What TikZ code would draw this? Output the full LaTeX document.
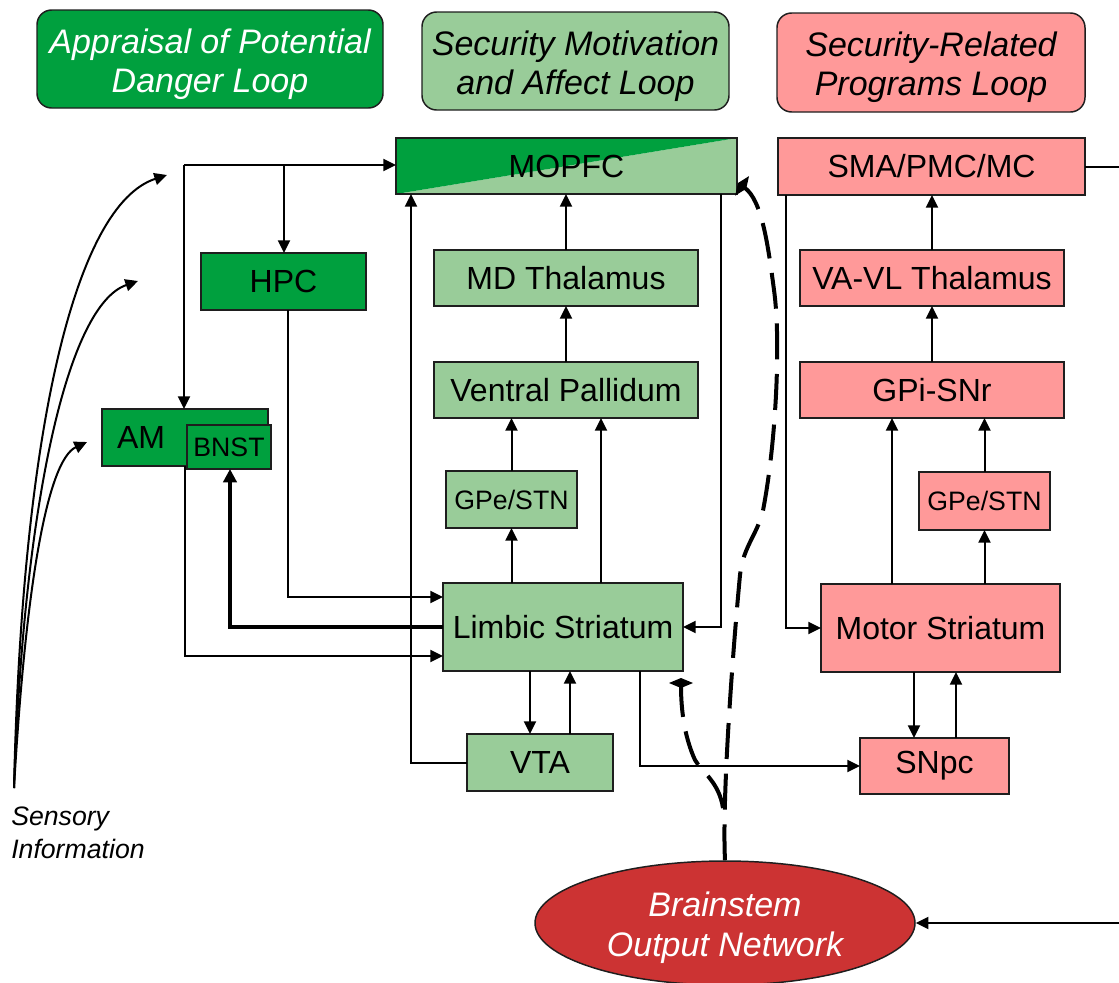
\documentclass[tikz,border=0pt]{standalone}
\usepackage{fontspec}
\setmainfont{Liberation Sans}
\usetikzlibrary{arrows.meta,calc,shapes.geometric}
\definecolor{dg}{RGB}{0,160,62}
\definecolor{lg}{RGB}{153,204,153}
\definecolor{pk}{RGB}{255,153,153}
\definecolor{bsred}{RGB}{204,51,51}
\definecolor{bd}{RGB}{30,30,30}
\newcommand{\hstrut}{\rule{0pt}{26pt}}
\begin{document}
\begin{tikzpicture}[x=0.75pt,y=-0.75pt,
 box/.style={draw=bd, line width=1.1pt, inner sep=0pt, outer sep=0pt, font=\fontsize{24}{28}\selectfont, text=black},
 dgbox/.style={box, fill=dg},
 lgbox/.style={box, fill=lg},
 pkbox/.style={box, fill=pk},
 smalltxt/.style={font=\fontsize{20}{24}\selectfont},
 hdr/.style={draw=bd, line width=1.1pt, rounded corners=11pt, align=center, font=\fontsize{25.5}{29.25}\selectfont\itshape, inner sep=0pt},
 arr/.style={line width=1.5pt, -{Triangle[length=9.5pt,width=9pt]}},
 con/.style={line width=1.5pt},
 thickarr/.style={line width=2.4pt, -{Triangle[length=10pt,width=10pt]}},
 dashln/.style={line width=3pt, dash pattern=on 27pt off 11pt, -{Diamond[length=7.5pt,width=18pt]}},
]
\useasboundingbox (0,0) rectangle (1119,982);

% headers
\node[hdr, fill=dg, text=white, minimum width=259.5pt, minimum height=73.5pt] (h1) at (210,59) {\hstrut Appraisal of Potential\\Danger Loop};
\node[hdr, fill=lg, minimum width=230.25pt, minimum height=73.5pt] (h2) at (575.5,61) {\hstrut Security Motivation\\and Affect Loop};
\node[hdr, fill=pk, minimum width=231pt, minimum height=74.25pt] (h3) at (931,62.5) {\hstrut Security-Related\\Programs Loop};

% green loop
\node[dgbox, minimum width=123.75pt, minimum height=42.75pt] (hpc) at (283.5,281.5) {HPC};
\node[dgbox, minimum width=124.5pt, minimum height=42.75pt, text width=102pt, inner xsep=11.25pt, align=left] (am) at (185,437.5) {AM};
\node[dgbox, smalltxt, minimum width=63pt, minimum height=33pt] (bnst) at (229,447) {BNST};

% MOPFC split
\node[box, minimum width=255.75pt, minimum height=42pt, path picture={
  \fill[lg] (path picture bounding box.south west) -- (path picture bounding box.north east) -- (path picture bounding box.south east) -- cycle;
  \fill[dg] (path picture bounding box.south west) -- (path picture bounding box.north west) -- (path picture bounding box.north east) -- cycle;}] (mop) at (566.5,166) {MOPFC};

% light green loop
\node[lgbox, minimum width=198pt, minimum height=42pt] (md) at (566,278) {MD Thalamus};
\node[lgbox, minimum width=198pt, minimum height=42pt] (vp) at (566,390) {Ventral Pallidum};
\node[lgbox, smalltxt, minimum width=98.25pt, minimum height=42.75pt] (gpeg) at (511.5,499.5) {GPe/STN};
\node[lgbox, minimum width=180pt, minimum height=66pt] (lim) at (563,627) {Limbic Striatum};
\node[lgbox, minimum width=109.5pt, minimum height=42.75pt] (vta) at (540,762.5) {VTA};

% pink loop
\node[pkbox, minimum width=230.25pt, minimum height=42.75pt] (sma) at (931.5,166.5) {SMA/PMC/MC};
\node[pkbox, minimum width=198pt, minimum height=42pt] (vavl) at (932,278) {VA-VL Thalamus};
\node[pkbox, minimum width=198pt, minimum height=42pt] (gpi) at (932,390) {GPi-SNr};
\node[pkbox, smalltxt, minimum width=98.25pt, minimum height=43.5pt] (gpep) at (984.5,501) {GPe/STN};
\node[pkbox, minimum width=179.25pt, minimum height=66pt] (mot) at (940.5,628) {Motor Striatum};
\node[pkbox, minimum width=111.75pt, minimum height=42pt] (snpc) at (934.5,766) {SNpc};

% brainstem
\node[ellipse, draw=bd, line width=1.1pt, fill=bsred, text=white, inner sep=0pt, minimum width=285pt, minimum height=93pt, align=center, font=\fontsize{25.5}{30}\selectfont\itshape] (bs) at (725,923) {\hstrut Brainstem\\Output Network};

% sensory
\node[anchor=north west, align=left, inner sep=0pt, font=\fontsize{20}{24.75}\selectfont\itshape] (sens) at (11,807) {Sensory\\Information};
\coordinate (src) at (14,788);
\coordinate (t1) at (167,175);
\coordinate (t2) at (138,281);
\coordinate (t3) at (87,442);
\draw[arr] (src) .. controls (22,430) and (75,205) .. (t1);
\draw[arr] (src) .. controls (24,500) and (68,305) .. (t2);
\draw[arr] (src) .. controls (26,580) and (48,460) .. (t3);

% top feed
\coordinate (fj) at (184,165);
\coordinate (fk) at (284,165);
\draw[arr] (fj) -- (fj -| mop.west);
\draw[arr] (fj) -- (fj |- am.north);
\draw[arr] (fk) -- (fk |- hpc.north);

% green connectors
\draw[arr] ($(hpc.south)+(4.5,0)$) |- ($(lim.west)+(0,-30)$);
\draw[thickarr] (lim.west) -| ($(bnst.south)+(1,0)$);
\draw[arr] (am.south) |- ($(lim.west)+(0,29)$);
\draw[arr] (vta.west) -| ($(mop.south west)+(15,0)$);

% light green connectors
\draw[arr] (md.north) -- (md.north |- mop.south);
\draw[arr] (vp.north) -- (vp.north |- md.south);
\draw[arr] (gpeg.north) -- (gpeg.north |- vp.south);
\draw[arr] (gpeg.south |- lim.north) -- (gpeg.south);
\coordinate (l1) at ($(lim.north)+(38,0)$);
\draw[arr] (l1) -- (l1 |- vp.south);
\draw[arr] ($(mop.south east)+(-16,0)$) |- (lim.east);
\coordinate (l2) at ($(lim.south)+(-33,0)$);
\draw[arr] (l2) -- (l2 |- vta.north);
\coordinate (l3) at ($(vta.north)+(30,0)$);
\draw[arr] (l3) -- (l3 |- lim.south);
\coordinate (l4) at ($(lim.south)+(77,0)$);
\draw[arr] (l4) |- (snpc.west);

% pink connectors
\coordinate (s1) at ($(sma.south west)+(8,0)$);
\draw[arr] (s1) |- (mot.west);
\draw[arr] (vavl.north) -- (vavl.north |- sma.south);
\draw[arr] (gpi.north) -- (gpi.north |- vavl.south);
\coordinate (m1) at ($(mot.north)+(-48.5,0)$);
\draw[arr] (m1) -- (m1 |- gpi.south);
\draw[arr] (gpep.north) -- (gpep.north |- gpi.south);
\draw[arr] (gpep.south |- mot.north) -- (gpep.south);
\coordinate (m2) at ($(mot.south)+(-26.5,0)$);
\draw[arr] (m2) -- (m2 |- snpc.north);
\coordinate (m3) at ($(snpc.north)+(21.5,0)$);
\draw[arr] (m3) -- (m3 |- mot.south);

% right edge
\coordinate (r1) at (1119,167);
\coordinate (r2) at (1119,923);
\draw[con] (sma.east) -- (sma.east -| r1);
\draw[arr] (r2) -- (bs.east);

% dashed feedback
\coordinate (dtop) at (738,183);
\draw[dashln] (bs.north) .. controls (722,800) and (732,660) .. (740,575)
  .. controls (743,545) and (760,532) .. (764,505)
  .. controls (776,440) and (781,340) .. (774,290)
  .. controls (768,245) and (762,200) .. (dtop);
\coordinate (dj) at (723,808);
\coordinate (dlim) at (681,678);
\draw[dashln] (dj) .. controls (719,782) and (702,772) .. (695,760)
  .. controls (685,738) and (681,712) .. (dlim);
\end{tikzpicture}
\end{document}
